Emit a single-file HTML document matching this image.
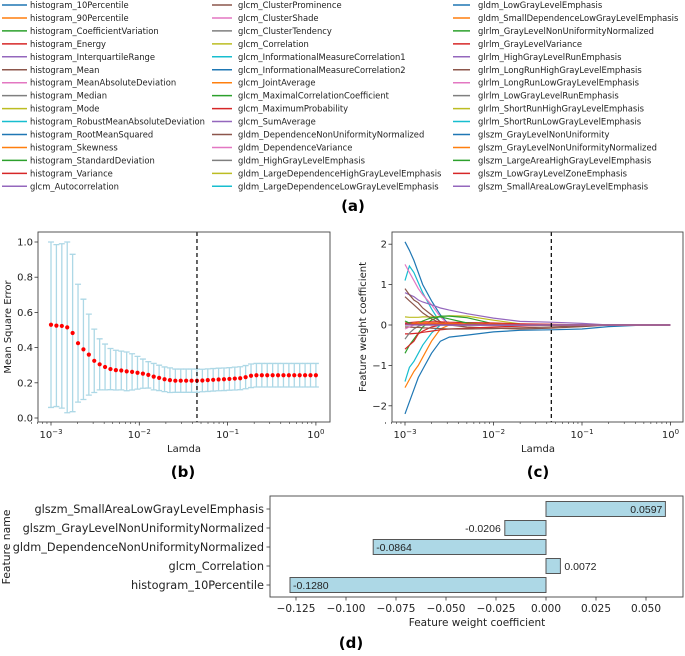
<!DOCTYPE html>
<html><head><meta charset="utf-8"><style>
html,body{margin:0;padding:0;background:#fff;}
svg{display:block;font-family:"DejaVu Sans","Liberation Sans",sans-serif;}
</style></head><body>
<svg id="fig" width="685" height="656" viewBox="0 0 685 656" xmlns="http://www.w3.org/2000/svg">
<g id="legend"></g>
<g id="pb"></g>
<g id="pc"></g>
<g id="pd"></g>
<text x="353" y="211" font-size="15" font-weight="bold" text-anchor="middle">(a)</text>
<text x="183" y="477" font-size="15" font-weight="bold" text-anchor="middle">(b)</text>
<text x="538" y="477" font-size="15" font-weight="bold" text-anchor="middle">(c)</text>
<text x="351" y="648" font-size="15" font-weight="bold" text-anchor="middle">(d)</text>
</svg>
<script>
const featureNames = ["histogram_10Percentile","histogram_90Percentile","histogram_CoefficientVariation","histogram_Energy","histogram_InterquartileRange","histogram_Mean","histogram_MeanAbsoluteDeviation","histogram_Median","histogram_Mode","histogram_RobustMeanAbsoluteDeviation","histogram_RootMeanSquared","histogram_Skewness","histogram_StandardDeviation","histogram_Variance","glcm_Autocorrelation",
"glcm_ClusterProminence","glcm_ClusterShade","glcm_ClusterTendency","glcm_Correlation","glcm_InformationalMeasureCorrelation1","glcm_InformationalMeasureCorrelation2","glcm_JointAverage","glcm_MaximalCorrelationCoefficient","glcm_MaximumProbability","glcm_SumAverage","gldm_DependenceNonUniformityNormalized","gldm_DependenceVariance","gldm_HighGrayLevelEmphasis","gldm_LargeDependenceHighGrayLevelEmphasis","gldm_LargeDependenceLowGrayLevelEmphasis",
"gldm_LowGrayLevelEmphasis","gldm_SmallDependenceLowGrayLevelEmphasis","glrlm_GrayLevelNonUniformityNormalized","glrlm_GrayLevelVariance","glrlm_HighGrayLevelRunEmphasis","glrlm_LongRunHighGrayLevelEmphasis","glrlm_LongRunLowGrayLevelEmphasis","glrlm_LowGrayLevelRunEmphasis","glrlm_ShortRunHighGrayLevelEmphasis","glrlm_ShortRunLowGrayLevelEmphasis","glszm_GrayLevelNonUniformity","glszm_GrayLevelNonUniformityNormalized","glszm_LargeAreaHighGrayLevelEmphasis","glszm_LowGrayLevelZoneEmphasis","glszm_SmallAreaLowGrayLevelEmphasis"];
const palette = ["#1f77b4","#ff7f0e","#2ca02c","#d62728","#9467bd","#8c564b","#e377c2","#7f7f7f","#bcbd22","#17becf"];

const mseMean = [0.53,0.525,0.523,0.515,0.483,0.425,0.39,0.36,0.325,0.305,0.29,0.278,0.272,0.27,0.265,0.262,0.257,0.252,0.245,0.235,0.228,0.22,0.215,0.212,0.212,0.212,0.212,0.212,0.213,0.215,0.217,0.219,0.22,0.222,0.224,0.226,0.232,0.24,0.243,0.243,0.243,0.243,0.243,0.243,0.243,0.243,0.243,0.243,0.243,0.243];
const mseStd = [0.47,0.46,0.467,0.485,0.447,0.335,0.285,0.23,0.18,0.145,0.13,0.117,0.113,0.11,0.11,0.103,0.093,0.083,0.075,0.075,0.072,0.07,0.07,0.066,0.066,0.066,0.066,0.066,0.064,0.064,0.064,0.064,0.064,0.064,0.065,0.065,0.066,0.067,0.067,0.067,0.067,0.067,0.067,0.067,0.067,0.067,0.067,0.067,0.067,0.067];
const bestLambda = 0.045;
const bYTicks = ["0.0","0.2","0.4","0.6","0.8","1.0"];

const pathLogLambda = [-3,-2.95,-2.9,-2.85,-2.8,-2.7,-2.6,-2.5,-2.3,-2.0,-1.7,-1.35,-1.0,-0.7,-0.3,0];
const pathSeries = [
 {c:0, v:[2.06,1.85,1.6,1.3,1.0,0.6,0.25,0,0,0,0,0,0,0,0,0]},
 {c:0, v:[-2.2,-1.9,-1.6,-1.3,-1.1,-0.7,-0.4,-0.3,-0.25,-0.17,-0.13,-0.12,-0.1,-0.04,0,0]},
 {c:1, v:[-1.55,-1.35,-1.15,-1.0,-0.8,-0.4,-0.1,0,0,0,0,0,0,0,0,0]},
 {c:9, v:[-1.4,-1.05,-0.9,-0.7,-0.5,-0.2,0,0,0,0,0,0,0,0,0,0]},
 {c:9, v:[1.1,1.46,1.3,1.05,0.8,0.4,0.05,0,0,0,0,0,0,0,0,0]},
 {c:6, v:[1.5,1.3,1.1,0.9,0.75,0.5,0.2,0,0,0,0,0,0,0,0,0]},
 {c:4, v:[0.8,0.75,0.7,0.62,0.57,0.5,0.42,0.37,0.28,0.17,0.09,0.07,0.04,0,0,0]},
 {c:8, v:[0.2,0.19,0.19,0.19,0.2,0.2,0.21,0.23,0.22,0.12,0.03,0,0,0,0,0]},
 {c:2, v:[-0.7,-0.5,-0.35,-0.2,-0.05,0.12,0.22,0.22,0.18,0.03,0,0,0,0,0,0]},
 {c:5, v:[0.9,0.75,0.62,0.55,0.42,0.25,0.08,0,0,0,0,0,0,0,0,0]},
 {c:5, v:[0.7,0.6,0.5,0.4,0.3,0.15,0.05,0,-0.05,-0.08,-0.1,-0.08,-0.04,0,0,0]},
 {c:3, v:[-0.6,-0.5,-0.4,-0.22,-0.15,-0.05,0,0,0,0,0,0,0,0,0,0]},
 {c:3, v:[-0.22,-0.22,-0.21,-0.2,-0.18,-0.15,-0.12,-0.1,-0.08,-0.05,-0.03,0,0,0,0,0]},
 {c:3, v:[0.05,0.06,0.07,0.08,0.08,0.08,0.08,0.07,0.06,0.05,0.03,0.02,0,0,0,0]},
 {c:7, v:[-0.35,-0.2,-0.1,-0.03,0,0,0,0,0,0,0,0,0,0,0,0]},
 {c:2, v:[0.1,0.05,0.03,0.05,0.1,0.18,0.2,0.15,0.05,0,0,0,0,0,0,0]},
 {c:0, v:[0.02,0.03,0.03,0.02,0.01,0,0,0,0,0,0,0,0,0,0,0]},
 {c:5, v:[-0.05,-0.05,-0.06,-0.06,-0.07,-0.08,-0.09,-0.1,-0.1,-0.09,-0.07,-0.05,-0.02,0,0,0]},
 {c:6, v:[-0.1,-0.05,0,0.03,0.04,0.03,0.02,0,0,0,0,0,0,0,0,0]},
 {c:1, v:[0,0.02,0.04,0.05,0.05,0.05,0.04,0.04,0.03,0.02,0.01,0,0,0,0,0]},
 {c:3, v:[0.02,0.02,0.02,0.02,0.02,0.02,0.02,0.02,0.02,0.01,0.01,0,0,0,0,0]},
 {c:4, v:[0,0,0,0,0,0,0,0,0,0,0,0,0,0,0,0]}
];
const cYTicks = [-2,-1,0,1,2];

const selFeatures = ["glszm_SmallAreaLowGrayLevelEmphasis","glszm_GrayLevelNonUniformityNormalized","gldm_DependenceNonUniformityNormalized","glcm_Correlation","histogram_10Percentile"];
const selWeights = [0.0597,-0.0206,-0.0864,0.0072,-0.1280];
const dXTicks = [-0.125,-0.100,-0.075,-0.050,-0.025,0.000,0.025,0.050];

const NS="http://www.w3.org/2000/svg";
function mk(parent,tag,attrs,txt){const e=document.createElementNS(NS,tag);for(const k in attrs)e.setAttribute(k,attrs[k]);if(txt!==undefined)e.textContent=txt;parent.appendChild(e);return e;}

const lg=document.getElementById('legend');
const colX=[[2,27,30],[212,232,238],[453,470,478]];
featureNames.forEach((n,i)=>{
  const col=Math.floor(i/15), row=i%15, y=5+row*12.95;
  const cx=colX[col];
  const ln=mk(lg,'line',{x1:cx[0],x2:cx[1],y1:y,y2:y,stroke:palette[i%10],'stroke-width':1.5});
  
  
  const t=mk(lg,'text',{x:cx[2],y:y+3,'font-size':8.4,fill:'#222'},n);
  
  
});

const pb=document.getElementById('pb');
const bL=38,bR=330,bT=232,bB=422;
const bx=lg10=>51+(lg10+3)*88.3;
const by=v=>418-v*176;
const nPts=mseMean.length;
function logTicks(g,xf,yB,lbY){
  for(let d=-3;d<=0;d++){
    mk(g,'line',{x1:xf(d),x2:xf(d),y1:yB,y2:yB+3.5,stroke:'#333','stroke-width':0.8});
    const t=mk(g,'text',{x:xf(d),y:lbY,'font-size':10,'text-anchor':'middle',fill:'#222'});
    mk(t,'tspan',{},'10');
    mk(t,'tspan',{dy:-4,'font-size':7},d===0?'0':'\u2212'+(-d));
    
    
    for(let m=2;m<=9;m++){
      const lx=d+Math.log10(m);
      if(lx<=0.16) mk(g,'line',{x1:xf(lx),x2:xf(lx),y1:yB,y2:yB+2,stroke:'#333','stroke-width':0.6});
    }
  }
  for(let m=6;m<=9;m++){const lx=-4+Math.log10(m);mk(g,'line',{x1:xf(lx),x2:xf(lx),y1:yB,y2:yB+2,stroke:'#333','stroke-width':0.6});}
}
for(let i=0;i<nPts;i++){
  const lx=-3+3*i/(nPts-1), x=bx(lx);
  const hi=by(mseMean[i]+mseStd[i]), lo=by(mseMean[i]-mseStd[i]);
  const e=mk(pb,'path',{d:`M${x},${hi}V${lo}M${x-3},${hi}H${x+3}M${x-3},${lo}H${x+3}`,stroke:'#add8e6','stroke-width':1.3,fill:'none'});
  
  
}
for(let i=0;i<nPts;i++){
  const lx=-3+3*i/(nPts-1);
  const c=mk(pb,'circle',{cx:bx(lx),cy:by(mseMean[i]),r:2.1,fill:'#ff0000'});
  
  
}
mk(pb,'line',{x1:bx(Math.log10(bestLambda)),x2:bx(Math.log10(bestLambda)),y1:bT,y2:bB,stroke:'#000','stroke-width':1.2,'stroke-dasharray':'4,3'});
mk(pb,'rect',{x:bL,y:bT,width:bR-bL,height:bB-bT,fill:'none',stroke:'#444','stroke-width':0.9});
bYTicks.forEach(s=>{const v=parseFloat(s),y=by(v);
  mk(pb,'line',{x1:bL-3.5,x2:bL,y1:y,y2:y,stroke:'#333','stroke-width':0.8});
  const t=mk(pb,'text',{x:bL-5,y:y+3.5,'font-size':10,'text-anchor':'end',fill:'#222'},s);
  
  
});
logTicks(pb,bx,bB,438);
mk(pb,'text',{x:184,y:452,'font-size':10,'text-anchor':'middle',fill:'#222'},'Lamda');
mk(pb,'text',{x:0,y:0,'font-size':10,'text-anchor':'middle',fill:'#222',transform:'translate(11,327) rotate(-90)'},'Mean Square Error');

const pc=document.getElementById('pc');
const cL=392,cR=683,cT=232,cB=422;
const cx=lg10=>405+(lg10+3)*88.5;
const cy=v=>325-v*40.4;
pathSeries.forEach((s,k)=>{
  const d=s.v.map((v,i)=>(i?'L':'M')+cx(pathLogLambda[i]).toFixed(1)+','+cy(v).toFixed(1)).join('');
  const p=mk(pc,'path',{d:d,stroke:palette[s.c],'stroke-width':1.2,fill:'none'});
  
  
});
mk(pc,'line',{x1:cx(Math.log10(bestLambda)),x2:cx(Math.log10(bestLambda)),y1:cT,y2:cB,stroke:'#000','stroke-width':1.2,'stroke-dasharray':'4,3'});
mk(pc,'rect',{x:cL,y:cT,width:cR-cL,height:cB-cT,fill:'none',stroke:'#444','stroke-width':0.9});
cYTicks.forEach(v=>{const y=cy(v);
  mk(pc,'line',{x1:cL-3.5,x2:cL,y1:y,y2:y,stroke:'#333','stroke-width':0.8});
  const t=mk(pc,'text',{x:cL-5,y:y+3.5,'font-size':10,'text-anchor':'end',fill:'#222'},v<0?'\u2212'+(-v):String(v));
  
  
});
logTicks(pc,cx,cB,438);
mk(pc,'text',{x:538,y:452,'font-size':10,'text-anchor':'middle',fill:'#222'},'Lamda');
mk(pc,'text',{x:0,y:0,'font-size':10,'text-anchor':'middle',fill:'#222',transform:'translate(366,327) rotate(-90)'},'Feature weight coefficient');

const pd=document.getElementById('pd');
const dL=270,dR=683,dT=496,dB=597;
const dx=v=>546+v*2000;
const dy=i=>509+i*19;
selWeights.forEach((w,i)=>{
  const x0=Math.min(dx(0),dx(w)),wd=Math.abs(dx(w)-dx(0));
  const r=mk(pd,'rect',{x:x0,y:dy(i)-7.5,width:wd,height:15,fill:'#add8e6',stroke:'#555','stroke-width':1});
  
  
  const lbl=w.toFixed(4);
  let tx,anc;
  if(wd>45){ if(w>0){tx=dx(w)-3;anc='end';}else{tx=dx(w)+3;anc='start';} }
  else { if(w>0){tx=dx(w)+4;anc='start';}else{tx=dx(w)-4;anc='end';} }
  const t=mk(pd,'text',{x:tx,y:dy(i)+4,'font-size':10.5,'text-anchor':anc,fill:'#222','font-family':'Liberation Sans, sans-serif'},lbl);
  
  
  mk(pd,'line',{x1:dL-3.5,x2:dL,y1:dy(i),y2:dy(i),stroke:'#333','stroke-width':0.8});
  const n=mk(pd,'text',{x:dL-6,y:dy(i)+4,'font-size':11.3,'text-anchor':'end',fill:'#222'},selFeatures[i]);
  
  
});
mk(pd,'rect',{x:dL,y:dT,width:dR-dL,height:dB-dT,fill:'none',stroke:'#444','stroke-width':0.9});
dXTicks.forEach(v=>{const x=dx(v);
  mk(pd,'line',{x1:x,x2:x,y1:dB,y2:dB+3.5,stroke:'#333','stroke-width':0.8});
  const s=(v<0?'\u2212':'')+Math.abs(v).toFixed(3);
  const t=mk(pd,'text',{x:x,y:612,'font-size':10.5,'text-anchor':'middle',fill:'#222'},s);
  
  
});
mk(pd,'text',{x:477,y:626,'font-size':10.5,'text-anchor':'middle',fill:'#222'},'Feature weight coefficient');
mk(pd,'text',{x:0,y:0,'font-size':10.8,'text-anchor':'middle',fill:'#222',transform:'translate(10,547) rotate(-90)'},'Feature name');
</script>
</body></html>
